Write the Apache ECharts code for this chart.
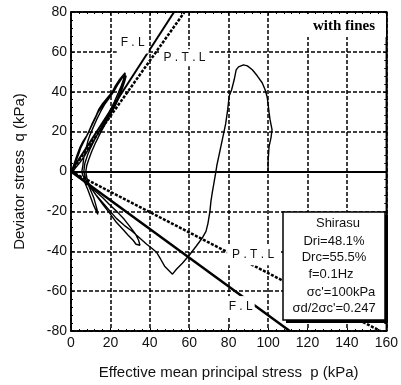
<!DOCTYPE html>
<html>
<head>
<meta charset="utf-8">
<script src="https://cdn.jsdelivr.net/npm/echarts@6/dist/echarts.min.js"></script>
<style>
  html, body { margin: 0; padding: 0; background: #fff; }
  #chart { width: 401px; height: 385px; }
</style>
</head>
<body>
<div id="chart"></div>
<script>
// axis ticks
const pTicks = [0, 20, 40, 60, 80, 100, 120, 140, 160]
const qTicks = [-80, -60, -40, -20, 0, 20, 40, 60, 80]

// reference lines, end points [p, q]
const flUpper = [[0, 0], [52.3, 80]]
const ptlUpper = [[0, 0], [57.6, 80]]
const flLower = [[0, 0], [111, -80]]
const ptlLower = [[0, 0], [157, -80]]

// stress path
const cycle1 = [
  [100, 0], [100, 5], [100.5, 12.5], [101.5, 17], [102, 21], [101, 26], [100.5, 29.5],
  [100, 34], [99.5, 37.5], [98.5, 41], [97, 44.5], [94.5, 48], [92, 51], [89.5, 53],
  [87.5, 53.5], [86.5, 53.3], [85, 52.5], [83.8, 51], [82.8, 46], [81.5, 41], [80.3, 38],
  [79.5, 31], [78.5, 24], [77, 17], [75.5, 10], [74, 3], [73.2, -2], [72.5, -6],
  [71.7, -10.5], [71, -15], [70.5, -20], [69.5, -26], [68.5, -30], [66.5, -33.5],
  [63.5, -37.5], [60, -42], [56.5, -46], [53.5, -49], [51.5, -51.5]
]
const cycle2 = [
  [49.5, -49.5], [47.5, -47.5], [45.5, -44], [43.4, -40.5], [41, -38.5], [38.4, -36.5],
  [35, -33.5], [31, -30], [27, -27], [23, -23.5], [19.5, -19.5], [16, -15.5], [12.5, -11.5],
  [9.5, -7.5], [7.5, -4], [6.5, 0], [7, 4], [8.5, 8.5], [10, 12], [12, 16], [14.5, 20.5],
  [17, 25], [19.5, 30], [22, 35], [24, 39.5], [25.5, 43], [26.8, 46.5], [27.5, 49.5],
  [26.5, 48.5], [24.5, 46], [22.5, 43], [20.7, 39.5], [18.5, 36], [16, 33], [13.6, 29.5],
  [11.5, 25], [9.5, 21], [8, 18], [6, 15], [4.5, 12], [3, 8], [1.8, 4.5], [0.8, 1.5], [0.5, 0]
]
const cycle3 = [
  [1.5, -1], [3.5, -2.5], [6, -4.5], [9, -7], [12.5, -10], [16, -13], [19.5, -16.5],
  [23.7, -20.5], [27, -24], [29.8, -27.5], [32.5, -31], [34.3, -34.5], [35, -37],
  [34.5, -37.8], [33, -36.5], [31.5, -34.5], [29, -32], [26.3, -29], [23, -25.5],
  [19.7, -21], [16.5, -17], [13.5, -13], [11, -9.5], [9, -6], [8, -3], [7.5, 0], [8, 3],
  [9, 6], [10.5, 10], [12.5, 14.5], [15, 19.5], [17.5, 24], [20, 28.5], [22.5, 33],
  [24.5, 37.5], [26, 41.5], [27.2, 45], [28, 48], [27.5, 48.8], [26, 47], [24, 44],
  [22, 40.5], [19.5, 37], [17, 33.5], [15, 30], [13, 26], [11, 21.5], [9.5, 18],
  [8.5, 15], [7.5, 11], [6.5, 7], [6, 3], [5.5, 0]
]
const cycle4 = [
  [6, -2], [7, -3.5], [8.5, -6], [10, -9.5], [11.5, -13], [12.5, -16.5], [13.2, -19],
  [13.6, -21.5], [13, -21], [11.5, -17], [10, -13], [8.5, -9], [7, -5.5], [5, -3],
  [3, -1.5], [1, 0]
]
const cycle5 = [
  [2, 1.5], [4.5, 4.5], [7, 8], [9, 11.5], [11.5, 15.5], [14, 19.5], [16.5, 23.5],
  [19, 28], [21.5, 32.5], [23.5, 36.5], [25, 40], [26.2, 43.5], [27, 46.5], [27.5, 49],
  [26.8, 49.3], [25, 46.5], [23, 43], [21, 40], [18.5, 37], [16, 34], [14, 31],
  [12.5, 27.5], [10.5, 23.5], [8.6, 19], [6.5, 15], [5, 12], [4, 9], [2.5, 5], [1, 2], [0.5, 0]
]

// line labels
const lineLabels = ['F . L', 'P . T . L', 'P . T . L', 'F . L']
const labelP = [31.3, 57.6, 92.4, 86.1]
const labelQ = [64.5, 57, -41.75, -67.75]

const caseLines = ['Shirasu', 'Dri=48.1%', 'Drc=55.5%', 'f=0.1Hz', "σc'=100kPa", "σd/2σc'=0.247"]

const font = 'Liberation Sans, Arial, sans-serif'
const labelPads = [[4, 4], [2, 4], [4, 5], [4, 2]]

const chart = echarts.init(document.getElementById('chart'))

const gridLine = { show: true, lineStyle: { color: '#000', type: [4, 2], width: 1.5 } }
const frame = { show: true, onZero: false, lineStyle: { color: '#000', width: 1.5 } }
const ticks = { show: true, inside: true, length: 3, lineStyle: { color: '#000' } }
const minor = { show: true, splitNumber: 5, length: 2, lineStyle: { color: '#000', width: 1 } }

function refLine(data, dashed, width) {
  return {
    type: 'line', data, showSymbol: false, silent: true, z: 3,
    lineStyle: { color: '#000', width, type: dashed ? [3, 1.5] : 'solid' }
  }
}

const pathData = [].concat(cycle1, cycle2, cycle3, cycle4, cycle5)

chart.setOption({
  animation: false,
  backgroundColor: '#fff',
  textStyle: { fontFamily: font },
  grid: { left: 71, right: 13, top: 12, bottom: 53, show: true, borderColor: '#000', borderWidth: 1.5 },
  xAxis: [{
    type: 'value', min: pTicks[0], max: pTicks[pTicks.length - 1], interval: 20,
    name: 'Effective mean principal stress  p (kPa)', nameLocation: 'middle', nameGap: 34,
    nameTextStyle: { fontSize: 15, color: '#111', fontFamily: font },
    axisLine: frame, axisTick: ticks, minorTick: minor, splitLine: gridLine,
    axisLabel: { fontSize: 14, color: '#111', margin: 5, fontFamily: font }
  }, {
    type: 'value', position: 'top', min: 0, max: 160, interval: 20,
    axisLine: frame, axisTick: ticks, minorTick: minor, splitLine: { show: false },
    axisLabel: { show: false }
  }],
  yAxis: [{
    type: 'value', min: qTicks[0], max: qTicks[qTicks.length - 1], interval: 20,
    name: 'Deviator stress  q (kPa)', nameLocation: 'middle', nameGap: 44,
    nameTextStyle: { fontSize: 15, color: '#111', fontFamily: font },
    axisLine: frame, axisTick: ticks, minorTick: minor, splitLine: gridLine,
    axisLabel: { fontSize: 14, color: '#111', margin: 4, fontFamily: font }
  }, {
    type: 'value', position: 'right', min: -80, max: 80, interval: 20,
    axisLine: frame, axisTick: ticks, minorTick: minor, splitLine: { show: false },
    axisLabel: { show: false }
  }],
  series: [
    {
      type: 'line', data: pathData, showSymbol: false, silent: true, z: 2,
      lineStyle: { color: '#000', width: 1.4 },
      markLine: {
        silent: true, symbol: 'none', label: { show: false },
        lineStyle: { color: '#000', width: 2, type: 'solid' },
        data: [{ yAxis: 0 }]
      }
    },
    refLine(flUpper, false, 2),
    refLine(ptlUpper, true, 2.5),
    refLine(flLower, false, 2.5),
    refLine(ptlLower, true, 2.5)
  ]
})

// text boxes on top of everything, placed through the axes' scales
const Z = 100
const graphics = lineLabels.map((t, i) => {
  const pt = chart.convertToPixel({ xAxisIndex: 0, yAxisIndex: 0 }, [labelP[i], labelQ[i]])
  return {
    type: 'text', x: pt[0], y: pt[1], z: Z, silent: true,
    style: {
      text: t, align: 'center', verticalAlign: 'middle',
      font: '12px ' + font, fill: '#111', lineHeight: 13,
      backgroundColor: '#fff', padding: labelPads[i]
    }
  }
})

graphics.push({
  type: 'group', right: 15, top: 14, z: Z,
  children: [
    { type: 'rect', z: Z, shape: { x: 0, y: 0, width: 84, height: 23 }, style: { fill: '#fff' } },
    {
      type: 'text', z: Z + 1, x: 42, y: 12,
      style: { text: 'with fines', align: 'center', verticalAlign: 'middle',
        font: 'bold 15px "Liberation Serif", "Times New Roman", serif', fill: '#000' }
    }
  ]
})

graphics.push({
  type: 'group', right: 13, bottom: 62, z: Z,
  children: [
    { type: 'rect', z: Z, shape: { x: 3, y: 3, width: 102, height: 108 }, style: { fill: '#000' } },
    { type: 'rect', z: Z + 1, shape: { x: 0, y: 0, width: 102, height: 108 },
      style: { fill: '#fff', stroke: '#000', lineWidth: 1.5 } }
  ].concat(caseLines.map((t, i) => ({
    type: 'text', z: Z + 2,
    x: [55, 51, 51, 48, 58, 51][i],
    y: [11, 29, 45, 62, 80, 96][i],
    style: { text: t, align: 'center', verticalAlign: 'middle',
      font: '13px ' + font, fill: '#111' }
  })))
})

chart.setOption({ graphic: graphics })
</script>
</body>
</html>
